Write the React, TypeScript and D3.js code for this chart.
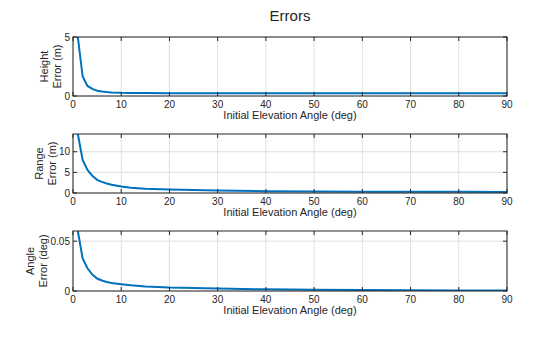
import React from "react";
import * as d3 from "d3";

const angles = [1, 2, 3, 4, 5, 6, 7, 8, 10, 12, 15, 20, 30, 40, 50, 60, 70, 80, 90];
const heightErr = [5.0, 1.65, 0.85, 0.6, 0.45, 0.38, 0.33, 0.3, 0.27, 0.26, 0.25, 0.24, 0.24, 0.23, 0.23, 0.23, 0.23, 0.23, 0.23];
const rangeErr = [14.3, 8.0, 5.6, 4.2, 3.2, 2.7, 2.3, 2.0, 1.55, 1.3, 1.05, 0.82, 0.58, 0.45, 0.38, 0.33, 0.3, 0.28, 0.27];
const angleErr = [0.0602, 0.0327, 0.0228, 0.0165, 0.0125, 0.0105, 0.009, 0.008, 0.0068, 0.0057, 0.0046, 0.0035, 0.0024, 0.0017, 0.0013, 0.001, 0.0008, 0.0006, 0.0005];
const xTicks = [0, 10, 20, 30, 40, 50, 60, 70, 80, 90];
const heightTicks = [0, 5];
const rangeTicks = [0, 5, 10];
const angleTicks = [0, 0.05];

const panels = [
  { top: 37, bottom: 96, values: heightErr, ticks: heightTicks, ymax: 5, label: ["Height", "Error (m)"], lx: [48, 61] },
  { top: 134, bottom: 193, values: rangeErr, ticks: rangeTicks, ymax: 14.3, label: ["Range", "Error (m)"], lx: [43, 55.5] },
  { top: 231, bottom: 291, values: angleErr, ticks: angleTicks, ymax: 0.0602, label: ["Angle", "Error (deg)"], lx: [34, 46.5] },
];

const left = 73;
const right = 507;
const font = "'Liberation Sans', Arial, sans-serif";

export default function App() {
  const x = d3.scaleLinear().domain([0, 90]).range([left, right]);
  return (
    <svg width={560} height={337} style={{ position: "absolute", left: 0, top: 0 }} fontFamily={font}>
      <rect width={560} height={337} fill="#fff" />
      <text x={290} y={20.5} textAnchor="middle" fontSize={15} fill="#262626">Errors</text>
      {panels.map((p, i) => {
        const y = d3.scaleLinear().domain([0, p.ymax]).range([p.bottom, p.top]);
        const line = d3.line<number>().x((_, j) => x(angles[j])).y((v) => y(v));
        const midY = (p.top + p.bottom) / 2;
        return (
          <g key={i}>
            <defs>
              <clipPath id={`clip${i}`}>
                <rect x={left} y={p.top} width={right - left} height={p.bottom - p.top} />
              </clipPath>
            </defs>
            {xTicks.map((t) => (
              <line key={t} x1={x(t)} x2={x(t)} y1={p.top} y2={p.bottom} stroke="#dfdfdf" strokeWidth={1} />
            ))}
            {p.ticks.map((t) => (
              <line key={t} x1={left} x2={right} y1={y(t)} y2={y(t)} stroke="#dfdfdf" strokeWidth={1} />
            ))}
            <path d={line(p.values) || ""} fill="none" stroke="#0072BD" strokeWidth={2} clipPath={`url(#clip${i})`} />
            <rect x={left} y={p.top} width={right - left} height={p.bottom - p.top} fill="none" stroke="#262626" strokeWidth={1} />
            {xTicks.map((t) => (
              <g key={t}>
                <line x1={x(t)} x2={x(t)} y1={p.bottom} y2={p.bottom - 4} stroke="#262626" />
                <line x1={x(t)} x2={x(t)} y1={p.top} y2={p.top + 4} stroke="#262626" />
                <text x={x(t)} y={p.bottom + 12} textAnchor="middle" fontSize={10} fill="#262626">{t}</text>
              </g>
            ))}
            {p.ticks.map((t) => (
              <g key={t}>
                <line x1={left} x2={left + 4} y1={y(t)} y2={y(t)} stroke="#262626" />
                <line x1={right} x2={right - 4} y1={y(t)} y2={y(t)} stroke="#262626" />
                <text x={left - 3} y={y(t) + 3.5} textAnchor="end" fontSize={10} fill="#262626">{t}</text>
              </g>
            ))}
            <text x={290} y={p.bottom + 23} textAnchor="middle" fontSize={11} fill="#262626">Initial Elevation Angle (deg)</text>
            <text transform={`translate(${p.lx[0]},${midY}) rotate(-90)`} textAnchor="middle" fontSize={11} fill="#262626">{p.label[0]}</text>
            <text transform={`translate(${p.lx[1]},${midY}) rotate(-90)`} textAnchor="middle" fontSize={11} fill="#262626">{p.label[1]}</text>
          </g>
        );
      })}
    </svg>
  );
}
